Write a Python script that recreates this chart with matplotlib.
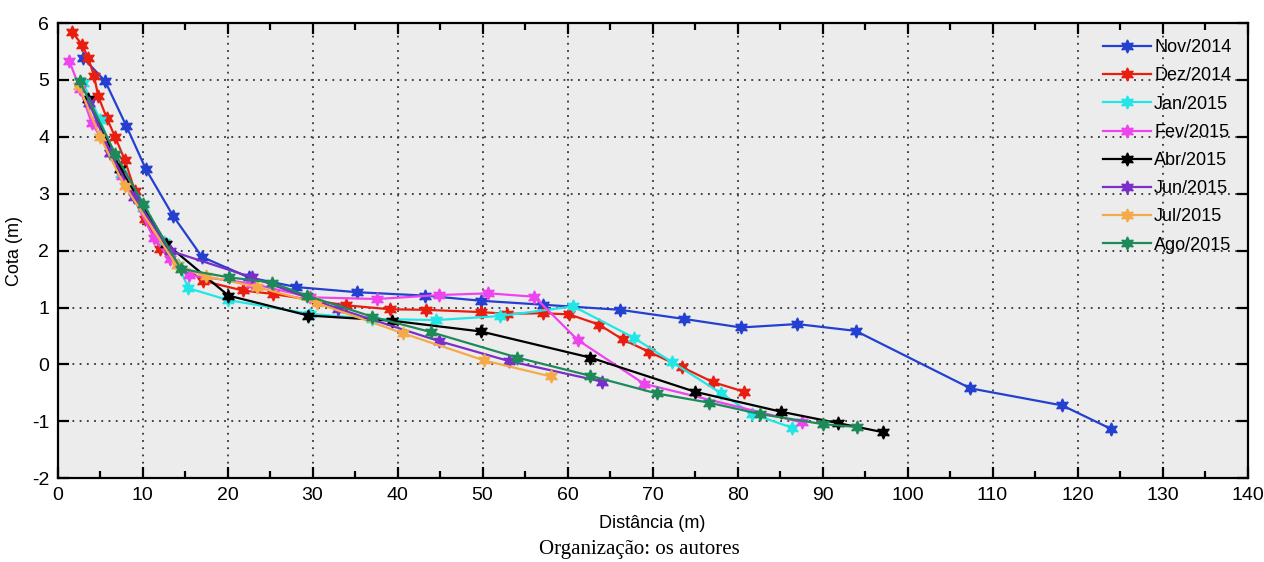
import matplotlib
matplotlib.use("Agg")
import matplotlib.pyplot as plt
from matplotlib.ticker import MultipleLocator

# perfis de praia: distancia (m) x cota (m)
nov14_x = [3.0, 5.6, 8.1, 10.4, 13.6, 17.0, 22.5, 28.1, 35.2, 43.2, 49.8, 57.1,
           66.2, 73.7, 80.4, 87.0, 93.9, 107.4, 118.2, 123.9]
nov14_y = [5.39, 4.98, 4.19, 3.43, 2.61, 1.89, 1.53, 1.36, 1.27, 1.21, 1.12, 1.05,
           0.96, 0.80, 0.65, 0.71, 0.59, -0.42, -0.72, -1.13]

dez14_x = [1.7, 2.9, 3.6, 4.3, 4.8, 5.8, 6.8, 7.9, 9.1, 10.3, 12.1, 17.1, 21.8,
           25.3, 33.9, 39.1, 43.4, 49.8, 52.9, 57.1, 60.2, 63.7, 66.5, 69.6,
           73.5, 77.1, 80.8]
dez14_y = [5.84, 5.62, 5.39, 5.07, 4.71, 4.33, 3.99, 3.60, 3.05, 2.56, 2.03, 1.47,
           1.30, 1.24, 1.04, 0.97, 0.96, 0.92, 0.89, 0.90, 0.88, 0.70, 0.44, 0.22,
           -0.05, -0.31, -0.48]

jan15_x = [3.0, 5.0, 7.5, 10.0, 12.5, 14.2, 15.4, 20.1, 29.7, 37.0, 44.5, 52.0,
           60.7, 67.8, 72.3, 78.0, 81.7, 86.4]
jan15_y = [4.95, 4.30, 3.35, 2.75, 2.15, 1.75, 1.34, 1.13, 0.89, 0.80, 0.78, 0.85,
           1.02, 0.47, 0.04, -0.50, -0.87, -1.11]

fev15_x = [1.4, 2.65, 4.0, 6.2, 7.6, 11.3, 13.2, 15.5, 22.9, 29.7, 37.6, 44.9,
           50.7, 56.1, 61.2, 69.0, 87.6]
fev15_y = [5.33, 4.84, 4.25, 3.72, 3.32, 2.23, 1.85, 1.57, 1.42, 1.18, 1.15, 1.22,
           1.25, 1.19, 0.43, -0.34, -1.02]

abr15_x = [3.6, 7.4, 12.8, 20.1, 29.5, 39.3, 49.8, 62.7, 75.0, 85.1, 91.8, 97.1]
abr15_y = [4.66, 3.43, 2.12, 1.21, 0.86, 0.77, 0.58, 0.12, -0.48, -0.83, -1.03, -1.19]

jun15_x = [3.7, 6.2, 9.0, 13.2, 22.9, 33.0, 44.9, 53.1, 64.0]
jun15_y = [4.60, 3.72, 2.95, 2.00, 1.53, 0.98, 0.41, 0.06, -0.30]

jul15_x = [2.5, 5.0, 7.9, 14.0, 17.5, 23.5, 30.5, 40.6, 50.2, 58.0]
jul15_y = [4.90, 4.00, 3.14, 1.74, 1.55, 1.36, 1.08, 0.55, 0.07, -0.21]

ago15_x = [2.6, 6.8, 10.1, 14.5, 20.2, 25.2, 29.3, 37.0, 43.9, 54.1, 62.7, 70.5,
           76.6, 82.6, 90.1, 94.1]
ago15_y = [4.98, 3.70, 2.82, 1.68, 1.53, 1.44, 1.21, 0.84, 0.57, 0.12, -0.20, -0.51,
           -0.67, -0.87, -1.05, -1.10]

labels = ['Nov/2014', 'Dez/2014', 'Jan/2015', 'Fev/2015', 'Abr/2015',
          'Jun/2015', 'Jul/2015', 'Ago/2015']
cores = ['#2440d0', '#e81e10', '#22e6e6', '#ee44ee', '#000000',
         '#7a2fc8', '#f5aa4a', '#1e8a5a']

series = [(nov14_x, nov14_y), (dez14_x, dez14_y), (jan15_x, jan15_y),
          (fev15_x, fev15_y), (abr15_x, abr15_y), (jun15_x, jun15_y),
          (jul15_x, jul15_y), (ago15_x, ago15_y)]

plt.rcParams['font.family'] = ['Liberation Sans', 'DejaVu Sans']
plt.rcParams['axes.unicode_minus'] = False

fig = plt.figure(figsize=(12.64, 5.62), dpi=100)
ax = fig.add_axes([0.0455, 0.149, 0.9415, 0.810])
ax.set_facecolor('#ececec')

for (x, y), lab, c in zip(series, labels, cores):
    ax.plot(x, y, '-', color=c, lw=1.6, marker=(6, 1, 0), ms=9.5,
            mec=c, mfc=c, label=lab)

ax.set_xlim(0, 140)
ax.set_ylim(-2, 6)
ax.xaxis.set_major_locator(MultipleLocator(10))
ax.xaxis.set_minor_locator(MultipleLocator(5))
ax.yaxis.set_major_locator(MultipleLocator(1))
ax.tick_params(which='both', direction='in', top=True, right=True,
               width=1.6, labelsize=14, pad=6)
ax.tick_params(which='major', length=8)
ax.tick_params(which='minor', length=5)
ax.grid(True, which='major', linestyle=(0, (1, 3)), color='#333333', lw=1.3)
for s in ax.spines.values():
    s.set_linewidth(1.6)

ax.set_xlabel('Distância (m)', fontsize=13, labelpad=8)
ax.set_ylabel('Cota (m)', fontsize=13, labelpad=6)

ax.legend(loc='upper right', frameon=False, fontsize=13, handlelength=2.7,
          labelspacing=0.62, handletextpad=0.15, borderaxespad=0.5)

fig.text(0.506, 0.023, 'Organização: os autores', ha='center', va='center',
         fontsize=15, family=['Liberation Serif', 'DejaVu Serif'])

fig.savefig('out.png', dpi=100)
